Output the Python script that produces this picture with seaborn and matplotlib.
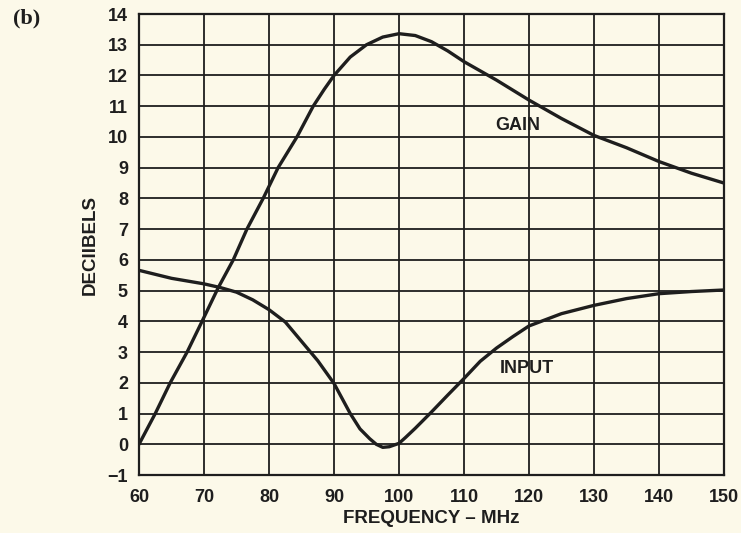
import numpy as np
import pandas as pd
import matplotlib
matplotlib.use("Agg")
import matplotlib.pyplot as plt
import seaborn as sns

# Amplifier response vs. frequency
gain_freq = [60, 62.5, 64.8, 67.4, 69.7, 72.2, 74.5, 76.6, 79.1, 81.4, 84.3, 86.8,
             88.5, 90, 92.5, 95, 97.5, 100, 102.5, 105, 107.5, 110, 115, 120, 125,
             130, 135, 140, 145, 150]
gain_db = [0.0, 1.0, 2.0, 3.0, 4.0, 5.1, 6.0, 7.0, 8.0, 9.0, 10.0, 11.0,
           11.55, 12.0, 12.6, 13.0, 13.25, 13.36, 13.3, 13.1, 12.8, 12.45, 11.85, 11.2, 10.6,
           10.05, 9.65, 9.2, 8.82, 8.5]

input_freq = [60, 65, 70, 72.5, 75, 77.5, 80, 82.5, 85, 87.5, 90, 92.5, 94,
              95.5, 96.5, 97.5, 98.5, 100, 101, 102.5, 105, 107.5, 110, 112.5,
              115, 117.5, 120, 125, 130, 135, 140, 145, 150]
input_db = [5.66, 5.4, 5.22, 5.1, 4.95, 4.7, 4.38, 3.98, 3.35, 2.72, 1.98, 1.0, 0.5,
            0.18, 0.0, -0.1, -0.08, 0.03, 0.22, 0.52, 1.05, 1.6, 2.14, 2.7,
            3.13, 3.5, 3.85, 4.25, 4.52, 4.74, 4.9, 4.97, 5.02]

x_ticks = list(range(60, 151, 10))
y_ticks = list(range(-1, 15))

df = pd.concat([
    pd.DataFrame({"freq": gain_freq, "db": gain_db, "curve": "GAIN"}),
    pd.DataFrame({"freq": input_freq, "db": input_db, "curve": "INPUT"}),
])

sns.set_theme(style="white")
plt.rcParams["font.family"] = ["Liberation Sans", "DejaVu Sans"]

paper = "#fcf9e9"
ink = "#1e1e1e"

fig = plt.figure(figsize=(7.41, 5.33), dpi=100, facecolor=paper)
ax = fig.add_axes([0.1876, 0.1088, 0.7894, 0.8649])
ax.set_facecolor(paper)

sns.lineplot(data=df, x="freq", y="db", units="curve", estimator=None,
             color=ink, linewidth=2.4, sort=False, ax=ax, legend=False)

ax.set_xlim(60, 150)
ax.set_ylim(-1, 14)
ax.set_xticks(x_ticks)
ax.set_yticks(y_ticks)
ax.set_yticklabels([("\u22121" if v < 0 else str(v)) for v in y_ticks])
ax.grid(True, color=ink, linewidth=1.3)
ax.set_axisbelow(True)
for s in ax.spines.values():
    s.set_color(ink)
    s.set_linewidth(1.6)

ax.tick_params(axis="both", length=0, labelsize=13, colors=ink)
ax.tick_params(axis="x", pad=10)
ax.tick_params(axis="y", pad=8)
for lab in ax.get_xticklabels() + ax.get_yticklabels():
    lab.set_fontweight("bold")

ax.set_xlabel("FREQUENCY \u2013 MHz", fontsize=13.5, fontweight="bold",
              color=ink, labelpad=3)
ax.set_ylabel("DECIIBELS", fontsize=13.5, fontweight="bold", color=ink,
              labelpad=6)

ax.text(118.3, 10.38, "GAIN", fontsize=13, fontweight="bold", color=ink,
        ha="center", va="center")
ax.text(119.7, 2.47, "INPUT", fontsize=13, fontweight="bold", color=ink,
        ha="center", va="center")

fig.text(0.018, 0.985, "(b)", fontsize=16, fontweight="bold", color=ink,
         family="Liberation Serif", ha="left", va="top")

fig.savefig("out.png", dpi=100, facecolor=paper)
